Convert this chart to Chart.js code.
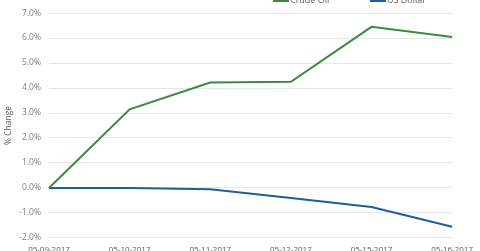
<!DOCTYPE html>
<html>
<head>
<meta charset="utf-8">
<script src="https://cdn.jsdelivr.net/npm/chart.js@4.4.0/dist/chart.umd.min.js"></script>
<style>
  html, body { margin: 0; padding: 0; background: #fff; }
  #wrap { position: relative; width: 480px; height: 251px; overflow: hidden; font-family: "Open Sans", sans-serif; }
  #chart { position: absolute; left: 0; top: 0; }
  .key { position: absolute; top: -6px; height: 12px; line-height: 12px; font-size: 9px; color: #595959; white-space: nowrap; }
  .key i { position: absolute; left: 0; top: 6px; width: 16px; height: 2px; }
  .key span { padding-left: 17px; }
</style>
</head>
<body>
<div id="wrap">
  <canvas id="chart" width="480" height="251"></canvas>
  <div class="key" style="left:273px"><i style="background:#3b8a3e"></i><span>Crude Oil</span></div>
  <div class="key" style="left:370px"><i style="background:#1f5e99"></i><span>US Dollar</span></div>
</div>
<script>
// dates on the x axis
const dates = ['05-09-2017', '05-10-2017', '05-11-2017', '05-12-2017', '05-15-2017', '05-16-2017'];

// % change since 05-09
const crudeOil = [0, 3.15, 4.22, 4.25, 6.45, 6.04];
const usDollar = [0, 0.0, -0.05, -0.4, -0.76, -1.55];

const seriesNames = ['Crude Oil', 'US Dollar'];

const ctx = document.getElementById('chart').getContext('2d');

const chart = new Chart(ctx, {
  type: 'line',
  data: {
    labels: dates,
    datasets: [
      {
        label: seriesNames[0],
        data: crudeOil,
        borderColor: '#3b8a3e',
        borderWidth: 2,
        pointRadius: 0,
        tension: 0
      },
      {
        label: seriesNames[1],
        data: usDollar,
        borderColor: '#1f5e99',
        borderWidth: 2,
        pointRadius: 0,
        tension: 0
      }
    ]
  },
  options: {
    responsive: false,
    animation: false,
    layout: { padding: { top: 12, right: 24, left: 0, bottom: 0 } },
    plugins: {
      legend: { display: false },
      tooltip: { enabled: false }
    },
    scales: {
      x: {
        offset: false,
        grid: { display: false, drawTicks: false },
        border: { display: false },
        ticks: {
          padding: 7,
          maxRotation: 0,
          autoSkip: false,
          color: '#595959',
          font: { family: 'Open Sans', size: 8 }
        },
        afterFit: function(scale) { scale.height = 13; }
      },
      y: {
        min: -2,
        max: 7,
        grid: { color: '#e6e6e6', drawTicks: false },
        border: { display: false },
        ticks: {
          stepSize: 1,
          padding: 8,
          color: '#7f7f7f',
          font: { family: 'Open Sans', size: 8.5 },
          callback: function(v) { return v.toFixed(1) + '%'; }
        },
        title: {
          display: true,
          text: '% Change',
          color: '#595959',
          padding: { top: 3, bottom: 0 },
          font: { family: 'Open Sans', size: 8.5 }
        },
        afterFit: function(scale) { scale.width = 49; }
      }
    }
  }
});
</script>
</body>
</html>
